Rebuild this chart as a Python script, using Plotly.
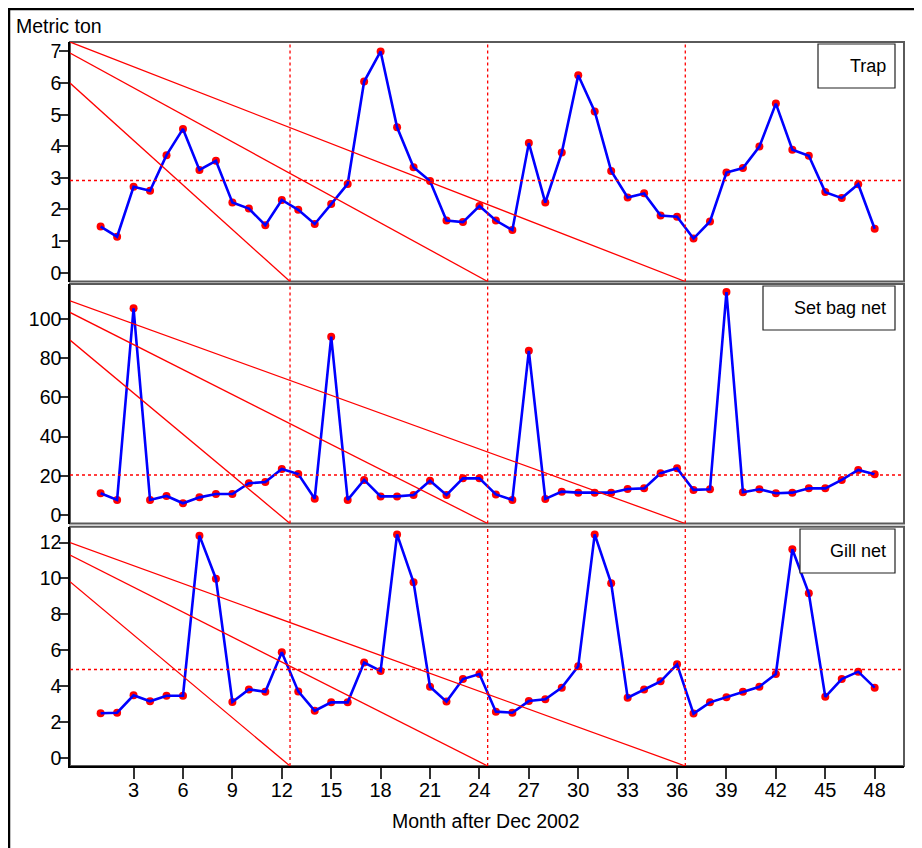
import plotly.graph_objects as go

# ---------------- data ----------------
months = list(range(1, 49))
trap = [1.46, 1.14, 2.72, 2.59, 3.72, 4.55, 3.25, 3.54, 2.22, 2.03, 1.50, 2.30,
        1.99, 1.54, 2.17, 2.81, 6.05, 7.00, 4.60, 3.34, 2.90, 1.65, 1.60, 2.11,
        1.65, 1.35, 4.10, 2.22, 3.80, 6.25, 5.10, 3.22, 2.38, 2.51, 1.81, 1.77,
        1.08, 1.62, 3.17, 3.31, 3.99, 5.35, 3.89, 3.70, 2.55, 2.36, 2.80, 1.39]
set_bag_net = [11.1, 7.7, 105.5, 7.7, 9.7, 6.0, 9.0, 10.7, 10.7, 16.2, 16.8, 23.5,
               20.9, 8.3, 91.0, 7.7, 17.9, 9.5, 9.5, 10.2, 17.5, 10.2, 18.7, 18.7,
               10.5, 7.7, 83.8, 8.2, 11.9, 11.4, 11.4, 11.4, 13.3, 13.6, 21.3, 23.8,
               12.8, 13.1, 113.8, 11.6, 13.1, 11.1, 11.4, 13.6, 13.6, 17.9, 23.0, 20.8]
gill_net = [2.48, 2.51, 3.48, 3.15, 3.46, 3.46, 12.39, 9.99, 3.11, 3.81, 3.68, 5.88,
            3.70, 2.62, 3.09, 3.09, 5.31, 4.84, 12.46, 9.79, 3.96, 3.13, 4.39, 4.67,
            2.57, 2.51, 3.16, 3.26, 3.91, 5.10, 12.46, 9.73, 3.35, 3.80, 4.26, 5.21,
            2.46, 3.09, 3.37, 3.68, 3.96, 4.67, 11.63, 9.17, 3.40, 4.39, 4.80, 3.91]
panel_names = ["Trap", "Set bag net", "Gill net"]
series = [trap, set_bag_net, gill_net]
year_breaks = [12.5, 24.5, 36.5]
# start values (at left edge) of the three red guide lines in each panel
guide_starts = [[6.0, 6.95, 7.3], [89.3, 103.4, 109.3], [9.82, 11.31, 12.0]]
y_tickvals = [list(range(0, 8)), list(range(0, 101, 20)), list(range(0, 13, 2))]
x_tickvals = list(range(3, 49, 3))

# ---------------- layout geometry (screen pixels; page body adds 8px) ----------------
OFF = 8
W, H = 914, 840
ML, MR, MT, MB = 62, 18, 34, 82
PW, PH = W - ML - MR, H - MT - MB
X_RANGE = [-0.86, 49.78]
y_ranges = [[-0.279, 7.30], [-4.34, 117.9], [-0.463, 12.89]]
panel_px = [(42, 281.5), (284, 523.5), (526.7, 766)]
legend_px = [(818, 44, 895, 88), (763, 286, 895, 330), (800, 529, 895, 573)]

def px_x(p):
    return (p - OFF - ML) / PW

def px_y(p):
    return (H - MB - (p - OFF)) / PH

FONT = "Liberation Sans, Arial, sans-serif"
fig = go.Figure()
shapes = []
annotations = []

for i, (vals, name) in enumerate(zip(series, panel_names)):
    n = "" if i == 0 else str(i + 1)
    xa, ya = "x" + n, "y" + n
    fig.add_trace(go.Scatter(x=months, y=vals, mode="markers", xaxis=xa, yaxis=ya,
                             marker=dict(color="#ff0000", size=8), showlegend=False,
                             hoverinfo="skip"))
    fig.add_trace(go.Scatter(x=months, y=vals, mode="lines", xaxis=xa, yaxis=ya,
                             line=dict(color="#0000ff", width=2.6), showlegend=False,
                             name=name))
    top, bot = panel_px[i]
    yr = y_ranges[i]
    fig.layout["xaxis" + n] = dict(
        domain=[0, 1], range=X_RANGE, anchor=ya, showgrid=False, zeroline=False,
        showline=(i == 2), linecolor="black", linewidth=1.5,
        ticks="outside" if i == 2 else "", ticklen=11, tickwidth=1.5, tickcolor="#333",
        tickvals=x_tickvals, showticklabels=(i == 2), ticklabelstandoff=-6,
        tickfont=dict(size=20, color="black", family=FONT),
        matches=None if i == 0 else "x",
    )
    fig.layout["yaxis" + n] = dict(
        domain=[px_y(bot), px_y(top)], range=yr, anchor=xa, showgrid=False,
        zeroline=False, showline=True, linecolor="black", linewidth=1.5,
        ticks="outside", ticklen=9, tickwidth=1.5, tickcolor="#333",
        ticklabelstandoff=-6,
        tickvals=y_tickvals[i], tickfont=dict(size=19.5, color="black", family=FONT),
    )
    shapes.append(dict(type="rect", xref=xa + " domain", yref=ya + " domain",
                       x0=0, x1=1, y0=0, y1=1, line=dict(color="#5a5a5a", width=2),
                       layer="below"))
    for b in year_breaks:
        shapes.append(dict(type="line", xref=xa, yref=ya + " domain", x0=b, x1=b,
                           y0=0, y1=1, line=dict(color="#ff0000", width=1.3, dash="dot")))
    m = sum(vals) / len(vals)
    shapes.append(dict(type="line", xref=xa + " domain", yref=ya, x0=0, x1=1,
                       y0=m, y1=m, line=dict(color="#ff0000", width=1.5, dash="dot")))
    for b, s in zip(year_breaks, guide_starts[i]):
        shapes.append(dict(type="line", xref=xa, yref=ya, x0=X_RANGE[0], y0=s,
                           x1=b, y1=yr[0], line=dict(color="#ff0000", width=1.3)))
    lx0, ly0, lx1, ly1 = legend_px[i]
    shapes.append(dict(type="rect", xref="paper", yref="paper",
                       x0=px_x(lx0), x1=px_x(lx1), y0=px_y(ly1), y1=px_y(ly0),
                       line=dict(color="#222", width=1.2), fillcolor="white",
                       layer="above"))
    annotations.append(dict(xref="paper", yref="paper", x=px_x(888),
                            y=px_y((ly0 + ly1) / 2), xanchor="right", yanchor="middle",
                            text=name, showarrow=False,
                            font=dict(size=18, color="black", family=FONT)))

# outer frame
shapes.append(dict(type="rect", xref="paper", yref="paper", x0=px_x(9), x1=px_x(940),
                   y0=px_y(880), y1=px_y(9), line=dict(color="black", width=2.5)))

annotations.append(dict(xref="paper", yref="paper", x=px_x(14), y=px_y(26),
                        xanchor="left", yanchor="middle", text="Metric ton",
                        showarrow=False, font=dict(size=19.5, color="black", family=FONT)))
annotations.append(dict(xref="paper", yref="paper", x=px_x(486), y=px_y(821),
                        xanchor="center", yanchor="middle", text="Month after Dec 2002",
                        showarrow=False, font=dict(size=19.5, color="black", family=FONT)))

fig.update_layout(width=W, height=H, margin=dict(l=ML, r=MR, t=MT, b=MB),
                  paper_bgcolor="white", plot_bgcolor="white",
                  font=dict(family=FONT, color="black"),
                  shapes=shapes, annotations=annotations, showlegend=False)

fig.write_html("out.html")
